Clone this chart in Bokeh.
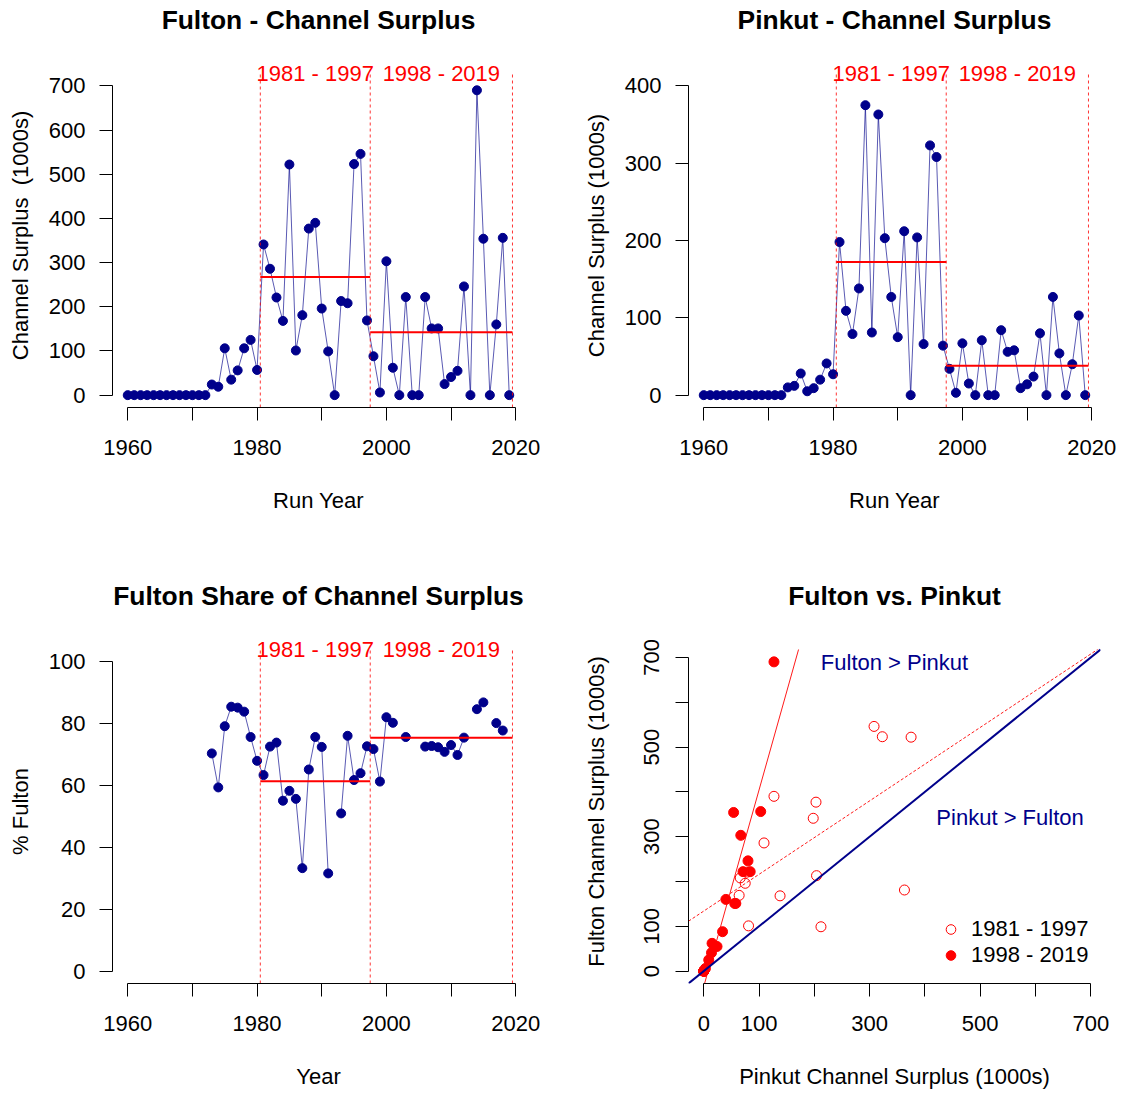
import numpy as np
from bokeh.plotting import figure
from bokeh.layouts import column, row
from bokeh.models import FixedTicker, Range1d, Legend, LegendItem, Title
from bokeh.embed import file_html
from bokeh.resources import INLINE
from bokeh.core.properties import value

# ---------------- data ----------------
years = list(range(1960, 2020))

fulton = [0, 0, 0, 0, 0, 0, 0, 0, 0, 0, 0, 0, 0,            # 1960-1972
          24, 19, 106, 35, 56, 106, 125, 57,                  # 1973-1980
          341, 286, 221, 168, 522, 101, 181, 377, 390, 196,   # 1981-1990
          99, 0, 213, 208, 523, 546, 169,                     # 1991-1997
          88, 6, 303, 62, 0, 222, 0, 0, 222, 151, 151,        # 1998-2008
          25, 41, 55, 246, 0, 690, 354, 0, 160, 356, 0]       # 2009-2019

pinkut = [0, 0, 0, 0, 0, 0, 0, 0, 0, 0, 0, 0, 0,
          10, 12, 28, 5, 9, 20, 41, 27,
          198, 109, 79, 138, 375, 81, 363, 203, 127, 75,
          212, 0, 204, 66, 323, 308, 64,
          34, 3, 67, 15, 0, 71, 0, 0, 84, 56, 58,
          9, 14, 24, 80, 0, 127, 54, 0, 40, 103, 0]

nan = float("nan")
fulton_share = [nan, nan, nan, nan, nan, nan, nan, nan, nan, nan, nan, nan, nan,
                70.4, 59.4, 79.2, 85.5, 85.2, 83.9, 75.7, 68.0,
                63.4, 72.6, 73.9, 55.1, 58.3, 55.7, 33.3, 65.2, 75.7, 72.5,
                31.6, nan, 51.0, 76.1, 61.8, 64.0, 72.7,
                71.8, 61.3, 82.1, 80.3, nan, 75.7, nan, nan, 72.6, 72.8, 72.4,
                70.9, 73.1, 69.9, 75.5, nan, 84.7, 86.9, nan, 80.2, 77.8, nan]

period_labels = ["1981 - 1997", "1998 - 2019"]
period_first = [1981, 1998]
period_last = [1997, 2019]

year_ticks = [1960, 1970, 1980, 1990, 2000, 2010, 2020]
year_hidden = {1970: "", 1990: "", 2010: ""}

# ---------------- style / layout ----------------
FONT = "Liberation Sans"
NAVY = "#00008B"
ROW_H = [576, 517]
COL_W = [576, 547]
FRAME_L = 112
FRAME_W = 412
REG_H = 334      # height of the plotting region (axes placed at its edge)
TOP_EXT = 10     # extra room above the region for the period labels
TOP_B = 73 - TOP_EXT
FRAME_H = REG_H + TOP_EXT
TITLE_GAP = 26   # spacer between frame and title


def style_axes(p, xlab_standoff=30, ylab_standoff=13, ytick_standoff=14):
    for ax in (p.xaxis[0], p.yaxis[0]):
        ax.axis_line_color = "black"
        ax.axis_line_width = 1
        ax.major_tick_line_color = "black"
        ax.minor_tick_line_color = None
        ax.major_tick_out = 13
        ax.major_tick_in = 0
        ax.major_label_text_font = FONT
        ax.major_label_text_font_size = "22px"
        ax.major_label_text_color = "black"
        ax.axis_label_text_font = FONT
        ax.axis_label_text_font_size = "22px"
        ax.axis_label_text_font_style = "normal"
        ax.axis_label_text_color = "black"
    p.xaxis[0].major_label_standoff = 19
    p.yaxis[0].major_label_standoff = ytick_standoff
    p.xaxis[0].axis_label_standoff = xlab_standoff
    p.yaxis[0].axis_label_standoff = ylab_standoff
    p.grid.visible = False
    p.outline_line_color = None


def add_title(p, text):
    # an invisible spacer keeps the title at the reference's distance from the plot
    p.add_layout(Title(text=" ", text_font_size="1px", standoff=TITLE_GAP), "above")
    p.add_layout(Title(text=text, align="center", vertical_align="bottom", standoff=0,
                       text_font=FONT, text_font_size="26.4px", text_font_style="bold",
                       text_color="black"), "above")


def time_fig(title, ylab, xlab, ylim, ystep, vals, w, h):
    span = ylim[1] - ylim[0]
    lo, hi = ylim[0] - 0.04 * span, ylim[1] + 0.04 * span
    y_end = lo + (hi - lo) * FRAME_H / REG_H
    xs = years[-1] - years[0]
    x_lo, x_hi = years[0] - 0.04 * xs, years[-1] + 0.04 * xs
    p = figure(width=w, height=h,
               x_range=Range1d(x_lo, x_hi), y_range=Range1d(lo, y_end),
               output_backend="svg", toolbar_location=None,
               min_border_left=FRAME_L, min_border_right=w - FRAME_L - FRAME_W,
               min_border_top=TOP_B, min_border_bottom=h - TOP_B - FRAME_H,
               x_axis_label=xlab, y_axis_label=ylab)
    style_axes(p)
    add_title(p, title)
    p.xaxis.ticker = FixedTicker(ticks=year_ticks)
    p.xaxis.major_label_overrides = year_hidden
    p.xaxis.bounds = (year_ticks[0], year_ticks[-1])
    yt = list(np.arange(ylim[0], ylim[1] + 1e-9, ystep))
    p.yaxis.ticker = FixedTicker(ticks=yt)
    p.yaxis.bounds = (ylim[0], ylim[1])

    p.line(years, vals, line_color=NAVY, line_width=1, line_alpha=0.65)
    p.scatter(years, vals, size=9, color=NAVY)

    # period boundaries
    bounds = [period_first[0] - 0.5, period_last[0] + 0.5, period_last[1] + 0.5]
    p.segment(x0=bounds, x1=bounds, y0=[lo] * 3, y1=[hi] * 3,
              line_color="red", line_width=1, line_alpha=0.8, line_dash="3 3")
    # period means
    yr = np.array(years)
    v = np.array(vals, dtype=float)
    means = [float(np.nanmean(v[(yr >= a) & (yr <= b)])) for a, b in zip(period_first, period_last)]
    p.segment(x0=[a - 0.5 for a in period_first], x1=[b + 0.5 for b in period_last],
              y0=means, y1=means, line_color="red", line_width=2)
    centers = [(a + b) / 2 for a, b in zip(period_first, period_last)]
    p.text(x=centers, y=[hi, hi], text=period_labels, text_align="center",
           text_baseline="middle", text_font=value(FONT), text_font_size="22px",
           text_color="red")
    return p


p1 = time_fig("Fulton - Channel Surplus", "Channel Surplus \u00a0(1000s)", "Run Year",
              (0, 700), 100, fulton, COL_W[0], ROW_H[0])
p2 = time_fig("Pinkut - Channel Surplus", "Channel Surplus (1000s)", "Run Year",
              (0, 400), 100, pinkut, COL_W[1], ROW_H[0])
p3 = time_fig("Fulton Share of Channel Surplus", "% Fulton", "Year",
              (0, 100), 20, fulton_share, COL_W[0], ROW_H[1])

# ---------------- scatter: Fulton vs Pinkut ----------------
m = float(max(max(fulton), max(pinkut)))
s_lo, s_hi = -0.04 * m, 1.04 * m
s_end = s_lo + (s_hi - s_lo) * FRAME_H / REG_H
w4, h4 = COL_W[1], ROW_H[1]
p4 = figure(width=w4, height=h4,
            x_range=Range1d(s_lo, s_hi), y_range=Range1d(s_lo, s_end),
            output_backend="svg", toolbar_location=None,
            min_border_left=FRAME_L, min_border_right=w4 - FRAME_L - FRAME_W,
            min_border_top=TOP_B, min_border_bottom=h4 - TOP_B - FRAME_H,
            x_axis_label="Pinkut Channel Surplus (1000s)",
            y_axis_label="Fulton Channel Surplus (1000s)")
style_axes(p4, xlab_standoff=30, ylab_standoff=33, ytick_standoff=16)
add_title(p4, "Fulton vs. Pinkut")
sticks = [0, 100, 200, 300, 400, 500, 600, 700]
shidden = {200: "", 400: "", 600: ""}
for ax in (p4.xaxis[0], p4.yaxis[0]):
    ax.ticker = FixedTicker(ticks=sticks)
    ax.major_label_overrides = shidden
    ax.bounds = (0, 700)
p4.yaxis.major_label_orientation = "vertical"

yr = np.array(years)
F = np.array(fulton, dtype=float)
P = np.array(pinkut, dtype=float)
sel1 = (yr >= period_first[0]) & (yr <= period_last[0])
sel2 = (yr >= period_first[1]) & (yr <= period_last[1])
nonzero = (F + P) > 0


def clip_line(a, b, lo, hi):
    """Segment of y = a + b*x inside the square [lo, hi] x [lo, hi]."""
    xa, xb = (lo - a) / b, (hi - a) / b
    x0 = max(lo, min(xa, xb))
    x1 = min(hi, max(xa, xb))
    return x0, a + b * x0, x1, a + b * x1


b1, a1 = np.polyfit(P[sel1 & nonzero], F[sel1 & nonzero], 1)
b2, a2 = np.polyfit(P[sel2 & nonzero], F[sel2 & nonzero], 1)
seg1 = clip_line(float(a1), float(b1), s_lo, s_hi)
seg2 = clip_line(float(a2), float(b2), s_lo, s_hi)
seg0 = clip_line(0.0, 1.0, s_lo, s_hi)

r_open = p4.scatter(P[sel1], F[sel1], size=10, marker="circle", fill_color=None,
                    line_color="red", line_width=1)
r_fill = p4.scatter(P[sel2], F[sel2], size=10, marker="circle", fill_color="red",
                    line_color="red")

p4.segment(x0=[seg1[0]], y0=[seg1[1]], x1=[seg1[2]], y1=[seg1[3]],
           line_color="red", line_width=1, line_dash="3 2", line_alpha=0.9)
p4.segment(x0=[seg2[0]], y0=[seg2[1]], x1=[seg2[2]], y1=[seg2[3]],
           line_color="red", line_width=1, line_alpha=0.9)
p4.segment(x0=[seg0[0]], y0=[seg0[1]], x1=[seg0[2]], y1=[seg0[3]],
           line_color=NAVY, line_width=2)

p4.text(x=[345, 554], y=[688, 342], text=["Fulton > Pinkut", "Pinkut > Fulton"],
        text_align="center", text_baseline="middle", text_font=value(FONT),
        text_font_size="22px", text_color=NAVY)

legend = Legend(items=[LegendItem(label=period_labels[0], renderers=[r_open]),
                       LegendItem(label=period_labels[1], renderers=[r_fill])],
                location=(250, 15), padding=5, margin=0, spacing=0,
                glyph_width=25, glyph_height=24, label_standoff=8,
                label_text_font=FONT, label_text_font_size="22px",
                label_text_color="black",
                background_fill_alpha=0, border_line_color=None)
p4.add_layout(legend)

layout = column(row(p1, p2), row(p3, p4))
open("out.html", "w").write(file_html(layout, INLINE))
